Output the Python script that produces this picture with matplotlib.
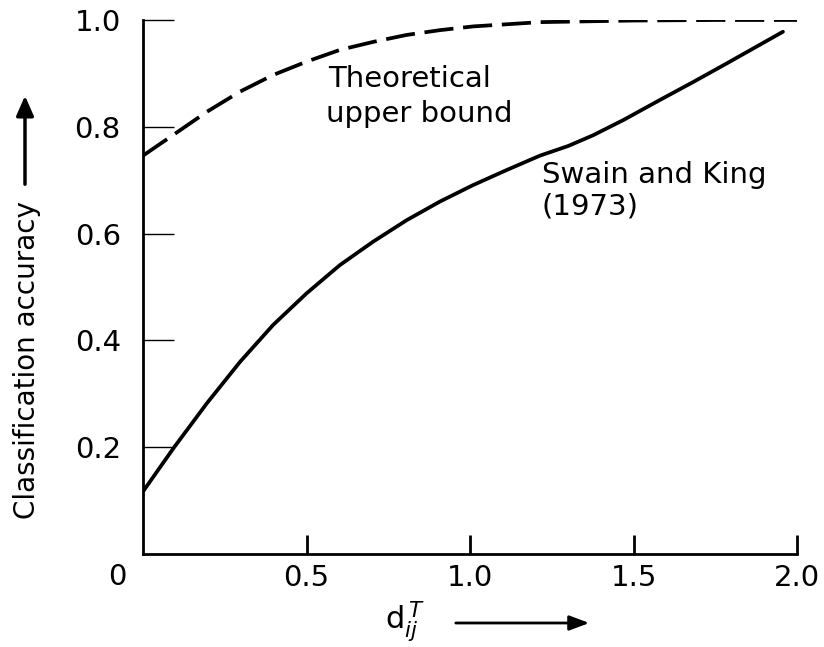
import matplotlib
matplotlib.use('Agg')
import matplotlib.pyplot as plt
from matplotlib.patches import FancyArrowPatch

# Swain and King (1973) curve
sk_x = [0.0, 0.093, 0.195, 0.297, 0.398, 0.50, 0.602, 0.704, 0.806,
        0.908, 1.01, 1.112, 1.214, 1.30, 1.376, 1.47, 1.58, 1.68, 1.786,
        1.87, 1.957]
sk_y = [0.117, 0.198, 0.282, 0.360, 0.429, 0.488, 0.541, 0.585, 0.625,
        0.660, 0.691, 0.719, 0.746, 0.764, 0.784, 0.813, 0.850, 0.883, 0.919,
        0.948, 0.978]

# theoretical upper bound
ub_x = [0.0, 0.093, 0.195, 0.297, 0.398, 0.50, 0.602, 0.704, 0.806, 0.908,
        1.01, 1.214, 1.5, 1.75, 2.0]
ub_y = [0.746, 0.785, 0.828, 0.866, 0.897, 0.922, 0.944, 0.959, 0.972, 0.981,
        0.988, 0.996, 0.999, 1.0, 1.0]

x_ticks = [0.5, 1.0, 1.5, 2.0]
x_labels = ['0.5', '1.0', '1.5', '2.0']
y_ticks = [0.2, 0.4, 0.6, 0.8, 1.0]
y_labels = ['0.2', '0.4', '0.6', '0.8', '1.0']

plt.rcParams['font.family'] = 'DejaVu Sans'
plt.rcParams['lines.scale_dashes'] = False

W, H = 824, 647


def fx(px):
    return px / W


def fy(py):
    return 1 - py / H


fig = plt.figure(figsize=(8.24, 6.47), dpi=100)
ax = fig.add_axes([fx(143), 93 / H, 654 / W, 534 / H])

ax.plot(sk_x, sk_y, color='black', lw=2.7, solid_capstyle='round',
        solid_joinstyle='round')
ax.plot(ub_x, ub_y, color='black', lw=2.7, dashes=(21, 7))

ax.set_xlim(0, 2.0)
ax.set_ylim(0, 1.0)
ax.spines['top'].set_visible(False)
ax.spines['right'].set_visible(False)
ax.spines['left'].set_linewidth(2.0)
ax.spines['bottom'].set_linewidth(2.0)

ax.set_xticks(x_ticks)
ax.set_xticklabels(x_labels, fontsize=21)
ax.set_yticks(y_ticks)
ax.set_yticklabels(y_labels, fontsize=21)
ax.tick_params(axis='x', direction='in', length=14, width=2.0, pad=7)
ax.tick_params(axis='y', direction='in', length=22, width=1.0, pad=16)

# shared origin label
fig.text(fx(117), fy(577), '0', fontsize=21, ha='center', va='center')

# curve labels
fig.text(fx(328), fy(87), 'Theoretical', fontsize=21, va='baseline')
fig.text(fx(326), fy(122), 'upper bound', fontsize=21, va='baseline')
fig.text(fx(542), fy(183), 'Swain and King', fontsize=21, va='baseline')
fig.text(fx(542), fy(214), '(1973)', fontsize=21, va='baseline')

# axis titles with arrows
fig.text(fx(27), fy(360), 'Classification accuracy', rotation=90,
         fontsize=20, ha='center', va='center')
fig.patches.append(FancyArrowPatch(
    (fx(25), fy(187)), (fx(25), fy(93)), transform=fig.transFigure,
    arrowstyle='-|>,head_length=8,head_width=3.5', lw=2.5, color='black',
    mutation_scale=1.5))

fig.text(fx(405), fy(622), r'$\mathrm{d}_{ij}^{\,T}$', fontsize=22,
         ha='center', va='center')
fig.patches.append(FancyArrowPatch(
    (fx(453), fy(623)), (fx(592), fy(623)), transform=fig.transFigure,
    arrowstyle='-|>,head_length=8,head_width=3', lw=2.0, color='black',
    mutation_scale=1.5))

fig.savefig('out.png', dpi=100)
